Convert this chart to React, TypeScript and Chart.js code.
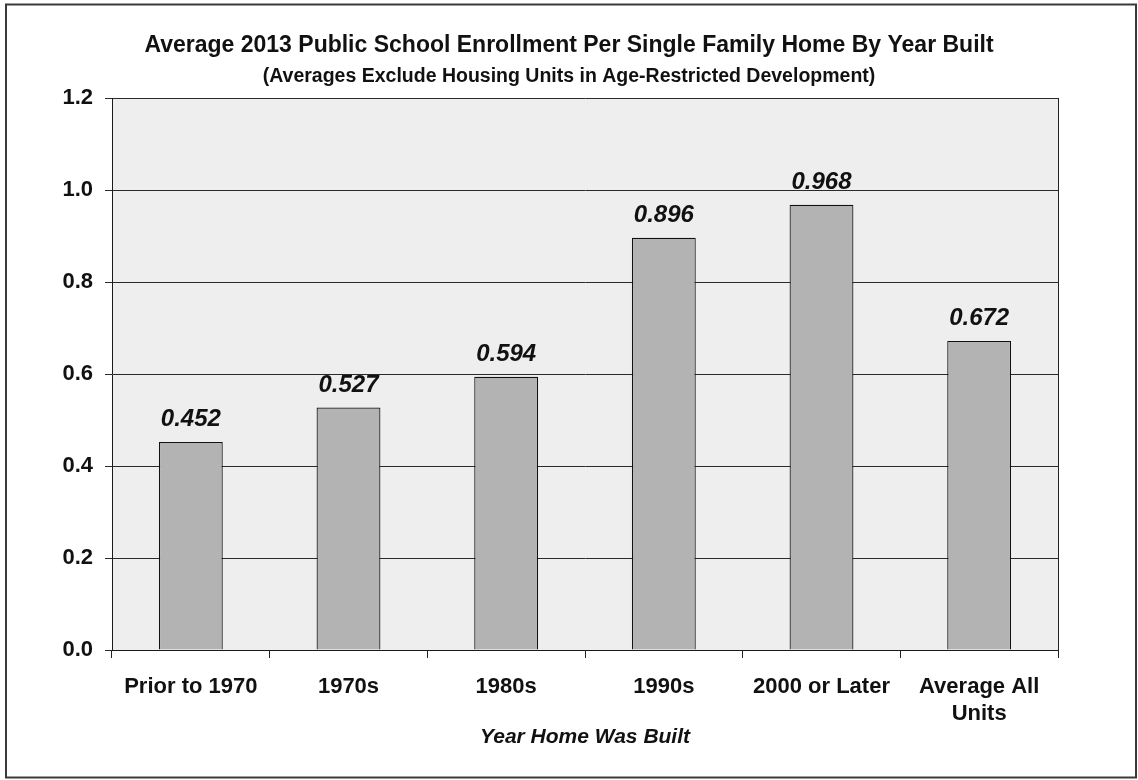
import React, { useEffect, useRef } from "react";
import { Chart, registerables } from "chart.js";

Chart.register(...registerables);

const categories: (string | string[])[] = [
  "Prior to 1970",
  "1970s",
  "1980s",
  "1990s",
  "2000 or Later",
  ["Average All", "Units"],
];
const enrollment: number[] = [0.452, 0.527, 0.594, 0.896, 0.968, 0.672];
const yTicks: number[] = [0, 0.2, 0.4, 0.6, 0.8, 1.0, 1.2];

const titleText = "Average 2013 Public School Enrollment Per Single Family Home By Year Built";
const subtitleText = "(Averages Exclude Housing Units in Age-Restricted Development)";
const xAxisTitle = "Year Home Was Built";

const FONT = "'Liberation Sans', Arial, Helvetica, sans-serif";
const INK = "#111111";

const framePlugin = {
  id: "frame",
  beforeDraw(chart: any) {
    const { ctx, width, height, chartArea } = chart;
    ctx.save();
    ctx.fillStyle = "#ffffff";
    ctx.fillRect(0, 0, width, height);
    ctx.fillStyle = "#eeeeee";
    ctx.fillRect(chartArea.left, chartArea.top, chartArea.right - chartArea.left, chartArea.bottom - chartArea.top);
    ctx.strokeStyle = "#3a3a3a";
    ctx.lineWidth = 2;
    ctx.strokeRect(6, 4.5, 1130, 773);
    ctx.restore();
  },
  afterDraw(chart: any) {
    const { ctx, chartArea } = chart;
    ctx.save();
    ctx.strokeStyle = "#222222";
    ctx.lineWidth = 1;
    ctx.beginPath();
    ctx.moveTo(Math.round(chartArea.right) + 0.5, chartArea.top);
    ctx.lineTo(Math.round(chartArea.right) + 0.5, chartArea.bottom);
    ctx.stroke();
    ctx.restore();
  },
};

const valueLabelPlugin = {
  id: "valueLabels",
  afterDatasetsDraw(chart: any) {
    const { ctx } = chart;
    const meta = chart.getDatasetMeta(0);
    const data = chart.data.datasets[0].data as number[];
    ctx.save();
    ctx.font = `italic bold 24px ${FONT}`;
    ctx.fillStyle = INK;
    ctx.textAlign = "center";
    ctx.textBaseline = "alphabetic";
    meta.data.forEach((bar: any, i: number) => {
      ctx.fillText(data[i].toFixed(3), bar.x, bar.y - 16);
    });
    ctx.restore();
  },
};

export default function App() {
  const canvasRef = useRef<HTMLCanvasElement | null>(null);

  useEffect(() => {
    document.body.style.margin = "0";
    const canvas = canvasRef.current;
    if (!canvas) return;
    const chart = new Chart(canvas, {
      type: "bar",
      data: {
        labels: categories,
        datasets: [
          {
            data: enrollment,
            yAxisID: "y",
            backgroundColor: "#b3b3b3",
            borderColor: "#111111",
            borderWidth: 1.2,
            barPercentage: 0.405,
            categoryPercentage: 1,
          },
        ],
      },
      options: {
        responsive: false,
        animation: false,
        devicePixelRatio: 1,
        layout: { padding: { left: 0, right: 0, top: 0, bottom: 0 } },
        plugins: {
          legend: { display: false },
          tooltip: { enabled: false },
          title: {
            display: true,
            text: titleText,
            color: INK,
            font: { family: FONT, size: 23, weight: "bold", lineHeight: 1.2 },
            padding: { top: 32, bottom: 0 },
          },
          subtitle: {
            display: true,
            text: subtitleText,
            color: INK,
            font: { family: FONT, size: 19.5, weight: "bold", lineHeight: 1.2 },
            padding: { top: 5, bottom: 10 },
          },
        },
        scales: {
          x: {
            grid: {
              display: true,
              drawOnChartArea: false,
              drawTicks: true,
              tickLength: 8,
              color: "#222222",
              offset: true,
            },
            border: { display: true, color: "#1a1a1a", width: 1 },
            ticks: {
              color: INK,
              padding: 15,
              maxRotation: 0,
              autoSkip: false,
              font: { family: FONT, size: 22, weight: "bold", lineHeight: 1.227 },
            },
            title: {
              display: true,
              text: xAxisTitle,
              color: INK,
              font: { family: FONT, size: 21, weight: "bold", style: "italic", lineHeight: 1.2 },
              padding: { top: 0, bottom: 30 },
            },
            afterFit(scale: any) {
              scale.height = 130;
            },
          },
          y: {
            min: 0,
            max: 1.2,
            afterBuildTicks(scale: any) {
              scale.ticks = yTicks.map((v) => ({ value: v }));
            },
            grid: {
              color: "#2a2a2a",
              lineWidth: 1,
              drawTicks: true,
              tickLength: 7,
            },
            border: { display: true, color: "#1a1a1a", width: 1 },
            ticks: {
              color: INK,
              padding: 12,
              font: { family: FONT, size: 22, weight: "bold" },
              callback: (v: any) => Number(v).toFixed(1),
            },
            afterFit(scale: any) {
              scale.width = 112;
            },
          },
          yRight: {
            type: "linear",
            position: "right",
            min: 0,
            max: 1.2,
            grid: { display: false, drawOnChartArea: false, drawTicks: false },
            border: { display: false },
            ticks: { display: false },
            afterFit(scale: any) {
              scale.width = 80;
            },
          },
        },
      },
      plugins: [framePlugin, valueLabelPlugin],
    });
    return () => chart.destroy();
  }, []);

  return (
    <div style={{ position: "absolute", left: 0, top: 0, width: 1138, height: 780 }}>
      <canvas ref={canvasRef} width={1138} height={780} style={{ width: 1138, height: 780, display: "block" }} />
    </div>
  );
}
